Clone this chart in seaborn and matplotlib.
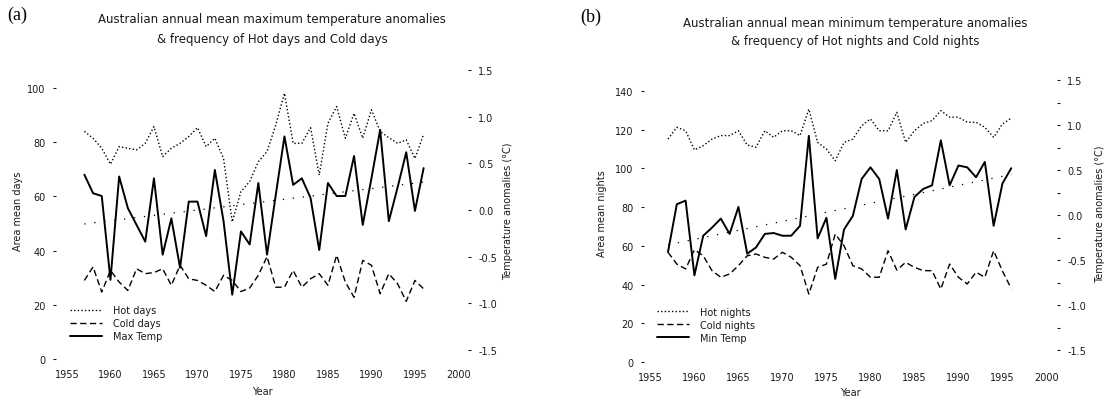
import matplotlib
matplotlib.use('Agg')
import matplotlib.pyplot as plt
import seaborn as sns
from matplotlib.ticker import FormatStrFormatter, MultipleLocator

# --- data ---
years = list(range(1957, 1997))

hot_days = [84, 81.5, 77.8, 71.9, 78.4, 77.8, 77.2, 79.6, 85.8, 74.7,
            77.8, 79.6, 82.1, 85.4, 78.4, 81.5, 74, 50.6, 61.8, 65.5,
            72.8, 76.6, 86.4, 98.1, 79.6, 79.6, 85.4, 67.9, 87, 93.2,
            81.5, 90.7, 81.5, 92, 84, 81.7, 79.6, 80.9, 74, 83]
cold_days = [29, 34, 24.7, 32.7, 28.4, 25.3, 33.3, 31.5, 31.9, 33.3,
             27.2, 34.6, 29.6, 29, 27.2, 24.9, 30.9, 29, 24.9, 26.2,
             30.9, 37.8, 26.5, 26.5, 32.7, 26.5, 29.6, 31.5, 27.2, 38.3,
             28.4, 22.8, 36.4, 34.6, 24.1, 31.5, 27.8, 21.3, 29, 25.9]
max_temp = [0.38, 0.18, 0.15, -0.75, 0.36, 0.02, -0.16, -0.34, 0.34, -0.48,
            -0.09, -0.62, 0.09, 0.09, -0.28, 0.43, -0.12, -0.91, -0.23, -0.37,
            0.29, -0.48, 0.16, 0.79, 0.27, 0.34, 0.13, -0.43, 0.29, 0.15,
            0.15, 0.58, -0.16, 0.34, 0.86, -0.12, 0.24, 0.62, -0.01, 0.45]

hot_nights = [115.2, 121.3, 119.5, 109.6, 111.8, 115.2, 117, 117, 119.5, 112.1,
              111, 119.5, 116.1, 119.5, 119.5, 117, 130.7, 113.5, 110, 104,
              113.5, 115.2, 122.1, 125.6, 119.5, 119.5, 129, 113.5, 119.5, 123.3,
              124.7, 129.9, 126.5, 126.5, 123.9, 123.9, 121.3, 116.1, 123, 126]
cold_nights = [56.7, 50.6, 48.1, 58, 54.9, 47.2, 43.8, 45.5, 49.8, 54.9,
               55.8, 54.1, 53.2, 56.7, 54.1, 49.8, 35.1, 48.9, 50.6, 66.1,
               60.1, 49.8, 48.1, 43.8, 43.8, 57.5, 47.5, 51.5, 48.9, 47.2,
               47.2, 37.7, 50.6, 43.8, 40.3, 46.4, 43.8, 57.5, 47, 38]
min_temp = [-0.41, 0.12, 0.16, -0.67, -0.23, -0.14, -0.04, -0.21, 0.09, -0.43,
            -0.36, -0.21, -0.20, -0.23, -0.23, -0.12, 0.88, -0.26, -0.03, -0.71,
            -0.16, -0.01, 0.40, 0.53, 0.40, -0.04, 0.50, -0.16, 0.20, 0.29,
            0.33, 0.83, 0.33, 0.55, 0.53, 0.42, 0.59, -0.12, 0.35, 0.52]

# linear trend end points of the temperature series
trend_years = [1957, 1996]
max_trend = [-0.15, 0.30]
min_trend = [-0.33, 0.45]

x_ticks = list(range(1955, 2001, 5))
days_ticks = [0, 20, 40, 60, 80, 100]
nights_ticks = [0, 20, 40, 60, 80, 100, 120, 140]
temp_ticks = [-1.5, -1.0, -0.5, 0.0, 0.5, 1.0, 1.5]

sns.set_style('white')
plt.rcParams['font.family'] = ['DejaVu Sans']
plt.rcParams['axes.unicode_minus'] = False

INK = '#1a1a1a'
DOT = (0, (1, 1.6))
DASH = (0, (4.5, 2.5))
TREND = (0, (1, 7))

W, H = 1107, 402
fig = plt.figure(figsize=(W / 100, H / 100), dpi=100)


def style_axis(ax):
    for s in ax.spines.values():
        s.set_visible(False)
    ax.tick_params(axis='both', which='both', direction='out', length=2.5,
                   width=0.8, color=INK, labelcolor=INK, labelsize=7, pad=5)
    ax.grid(False)


def panel(rect, xlim, ylim, ylim_t, hot, cold, temp, trend, hot_lab, cold_lab,
          temp_lab, ylab, yticks, minor_t=False):
    ax = fig.add_axes(rect)
    axr = ax.twinx()
    sns.lineplot(x=years, y=hot, ax=ax, color='k', linestyle=DOT, lw=1.0, legend=False)
    h1 = ax.lines[-1]
    sns.lineplot(x=years, y=cold, ax=ax, color='k', linestyle=DASH, lw=1.0, legend=False)
    h2 = ax.lines[-1]
    sns.lineplot(x=years, y=temp, ax=axr, color='k', linestyle='-', lw=1.4, legend=False)
    h3 = axr.lines[-1]
    sns.lineplot(x=trend_years, y=trend, ax=axr, color='k', linestyle=TREND, lw=0.9,
                 legend=False)

    ax.set_xlim(*xlim)
    ax.set_ylim(*ylim)
    axr.set_ylim(*ylim_t)
    ax.set_xticks(x_ticks)
    ax.set_yticks(yticks)
    axr.set_yticks(temp_ticks)
    axr.yaxis.set_major_formatter(FormatStrFormatter('%.1f'))
    if minor_t:
        axr.yaxis.set_minor_locator(MultipleLocator(0.25))
    style_axis(ax)
    style_axis(axr)

    ax.set_xlabel('Year', fontsize=7, color=INK)
    ax.set_ylabel(ylab, fontsize=7, color=INK)
    axr.set_ylabel('Temperature anomalies (\u00b0C)', fontsize=7, color=INK)

    leg = axr.legend([h1, h2, h3], [hot_lab, cold_lab, temp_lab], loc='upper left',
                     frameon=False, fontsize=7, handlelength=3.3, labelspacing=0.3,
                     handletextpad=1.15, borderpad=0, borderaxespad=0)
    for t in leg.get_texts():
        t.set_color(INK)
    return ax, axr, leg


# (a) maximum temperature
ax1, ax1r, leg1 = panel([56 / W, 42 / H, 412 / W, 298 / H], (1953.74, 2001.1), (0, 110),
                        (-1.6, 1.6), hot_days, cold_days, max_temp, max_trend,
                        'Hot days', 'Cold days', 'Max Temp', 'Area mean days', days_ticks)
ax1.xaxis.set_label_coords(0.5, -0.09)
ax1.yaxis.set_label_coords(-0.08, 0.5)
ax1r.yaxis.set_label_coords(1.085, 0.5)
leg1.set_bbox_to_anchor((0.034, 0.18), transform=ax1.transAxes)

# (b) minimum temperature
ax2, ax2r, leg2 = panel([644 / W, 39 / H, 413 / W, 298 / H], (1954.27, 2001.2), (0, 154),
                        (-1.633, 1.678), hot_nights, cold_nights, min_temp, min_trend,
                        'Hot nights', 'Cold nights', 'Min Temp', 'Area mean nights',
                        nights_ticks, minor_t=True)
ax2.xaxis.set_label_coords(0.5, -0.084)
ax2.yaxis.set_label_coords(-0.09, 0.5)
ax2r.yaxis.set_label_coords(1.092, 0.5)
leg2.set_bbox_to_anchor((0.031, 0.185), transform=ax2.transAxes)

# titles and panel letters
fig.text(272 / W, 1 - 20 / H, 'Australian annual mean maximum temperature anomalies',
         ha='center', va='center', fontsize=8.5, color=INK)
fig.text(272 / W, 1 - 39 / H, '& frequency of Hot days and Cold days',
         ha='center', va='center', fontsize=8.5, color=INK)
fig.text(855 / W, 1 - 23 / H, 'Australian annual mean minimum temperature anomalies',
         ha='center', va='center', fontsize=8.5, color=INK)
fig.text(855 / W, 1 - 42 / H, '& frequency of Hot nights and Cold nights',
         ha='center', va='center', fontsize=8.5, color=INK)
fig.text(17 / W, 1 - 15 / H, '(a)', ha='center', va='center', fontsize=13,
         family=['Liberation Serif', 'DejaVu Serif'], color='k')
fig.text(591 / W, 1 - 17 / H, '(b)', ha='center', va='center', fontsize=13,
         family=['Liberation Serif', 'DejaVu Serif'], color='k')

fig.savefig('out.png', dpi=100)
